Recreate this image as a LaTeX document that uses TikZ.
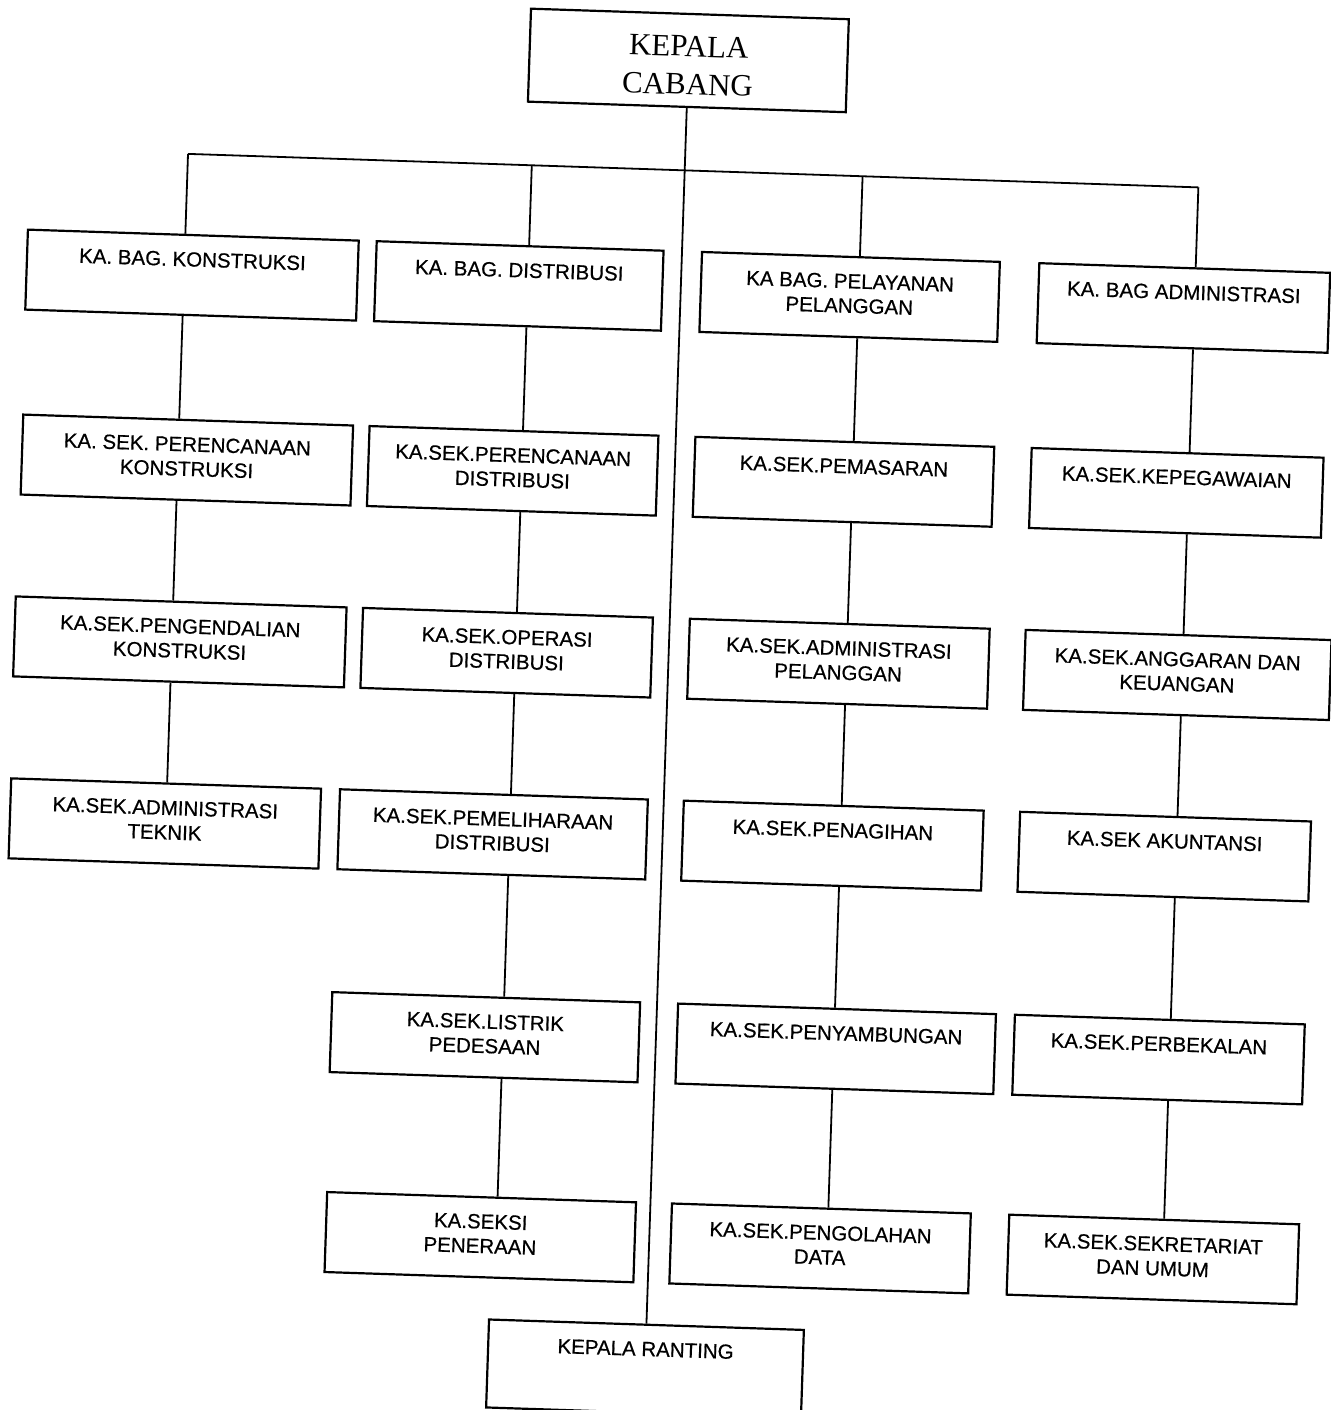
\documentclass[tikz,border=0pt]{standalone}
\usepackage{fontspec}
\setmainfont{Liberation Sans}
\newfontfamily\kcfont{Liberation Serif}
\newfontfamily\lblfont[FakeBold=0.6]{Liberation Sans}
\usetikzlibrary{calc}
\newcommand\orgbox[5]{%
  \node[box, minimum width=#4pt] (#1) at (#2,#3) {};
  \node[lbl] (#1t) at ($(#1.north)!18pt!(#1.center)$) {#5};
}
\newcommand\drop[3]{% from box #1 to box #2 along column coordinate #3
  \draw[conn] ($(#1.south west)!(#3)!(#1.south east)$) -- ($(#2.north west)!(#3)!(#2.north east)$);
}
\begin{document}
\begin{tikzpicture}[x=1pt,y=-1pt,
  box/.style={draw, line width=2.2pt, fill=white, inner sep=0pt, minimum height=80pt},
  lbl/.style={anchor=north, inner sep=0pt, align=center, font=\lblfont\fontsize{20.5}{24.5}\selectfont},
  conn/.style={line width=1.8pt}]
\useasboundingbox (0,0) rectangle (1330,1410);
\fill[white] (0,0) rectangle (1330,1410);
\begin{scope}[rotate around={-1.9:(665,705)}, transform shape]
  % column line coordinates on the top bar
  \coordinate (h1) at (170,170);
  \coordinate (h2) at (514,170);
  \coordinate (h3) at (845,170);
  \coordinate (h4) at (1181,170);

  \node[box, minimum width=318pt, minimum height=93pt] (kc) at (667,60) {};
  \node[align=center, inner sep=0pt, font=\kcfont\fontsize{31}{38}\selectfont]
        (kct) at ($(kc.center)!5pt!(kc.south)$) {KEPALA\\CABANG};

  % column 1
  \orgbox{b1}{178}{291}{331}{KA. BAG. KONSTRUKSI}
  \orgbox{b2}{179}{476}{330}{KA. SEK. PERENCANAAN\\KONSTRUKSI}
  \orgbox{b3}{178}{658}{331}{KA.SEK.PENGENDALIAN\\KONSTRUKSI}
  \orgbox{b4}{169}{840}{310}{KA.SEK.ADMINISTRASI\\TEKNIK}
  % column 2
  \orgbox{d1}{505}{291}{287}{KA. BAG. DISTRIBUSI}
  \orgbox{d2}{505}{476}{289}{KA.SEK.PERENCANAAN\\DISTRIBUSI}
  \orgbox{d3}{505}{658}{290}{KA.SEK.OPERASI\\DISTRIBUSI}
  \orgbox{d4}{497}{840}{308}{KA.SEK.PEMELIHARAAN\\DISTRIBUSI}
  \orgbox{d5}{496}{1043}{308}{KA.SEK.LISTRIK\\PEDESAAN}
  \orgbox{d6}{498}{1243}{309}{KA.SEKSI\\PENERAAN}
  % column 3
  \orgbox{p1}{836}{291}{298}{KA BAG. PELAYANAN\\PELANGGAN}
  \orgbox{p2}{836}{476}{299}{KA.SEK.PEMASARAN}
  \orgbox{p3}{837}{658}{300}{KA.SEK.ADMINISTRASI\\PELANGGAN}
  \orgbox{p4}{837}{840}{300}{KA.SEK.PENAGIHAN}
  \orgbox{p5}{847}{1043}{318}{KA.SEK.PENYAMBUNGAN}
  \orgbox{p6}{838}{1243}{299}{KA.SEK.PENGOLAHAN\\DATA}
  % column 4
  \orgbox{a1}{1170}{291}{291}{KA. BAG ADMINISTRASI}
  \orgbox{a2}{1169}{476}{292}{KA.SEK.KEPEGAWAIAN}
  \orgbox{a3}{1176}{658}{306}{KA.SEK.ANGGARAN DAN\\KEUANGAN}
  \orgbox{a4}{1169}{840}{291}{KA.SEK AKUNTANSI}
  \orgbox{a5}{1170}{1043}{290}{KA.SEK.PERBEKALAN}
  \orgbox{a6}{1171}{1243}{290}{KA.SEK.SEKRETARIAT\\DAN UMUM}
  % bottom
  \node[box, minimum width=315pt, minimum height=88pt] (kr) at (667,1369) {};
  \node[lbl] (krt) at ($(kr.north)!18pt!(kr.center)$) {KEPALA RANTING};

  % connectors
  \draw[conn] (kc.south) -- (kr.north);
  \draw[conn] (h1) -- (h4);
  \draw[conn] (h1) -- ($(b1.north west)!(h1)!(b1.north east)$);
  \draw[conn] (h2) -- ($(d1.north west)!(h2)!(d1.north east)$);
  \draw[conn] (h3) -- ($(p1.north west)!(h3)!(p1.north east)$);
  \draw[conn] (h4) -- ($(a1.north west)!(h4)!(a1.north east)$);
  \drop{b1}{b2}{h1} \drop{b2}{b3}{h1} \drop{b3}{b4}{h1}
  \drop{d1}{d2}{h2} \drop{d2}{d3}{h2} \drop{d3}{d4}{h2} \drop{d4}{d5}{h2} \drop{d5}{d6}{h2}
  \drop{p1}{p2}{h3} \drop{p2}{p3}{h3} \drop{p3}{p4}{h3} \drop{p4}{p5}{h3} \drop{p5}{p6}{h3}
  \drop{a1}{a2}{h4} \drop{a2}{a3}{h4} \drop{a3}{a4}{h4} \drop{a4}{a5}{h4} \drop{a5}{a6}{h4}
\end{scope}
\end{tikzpicture}
\end{document}
